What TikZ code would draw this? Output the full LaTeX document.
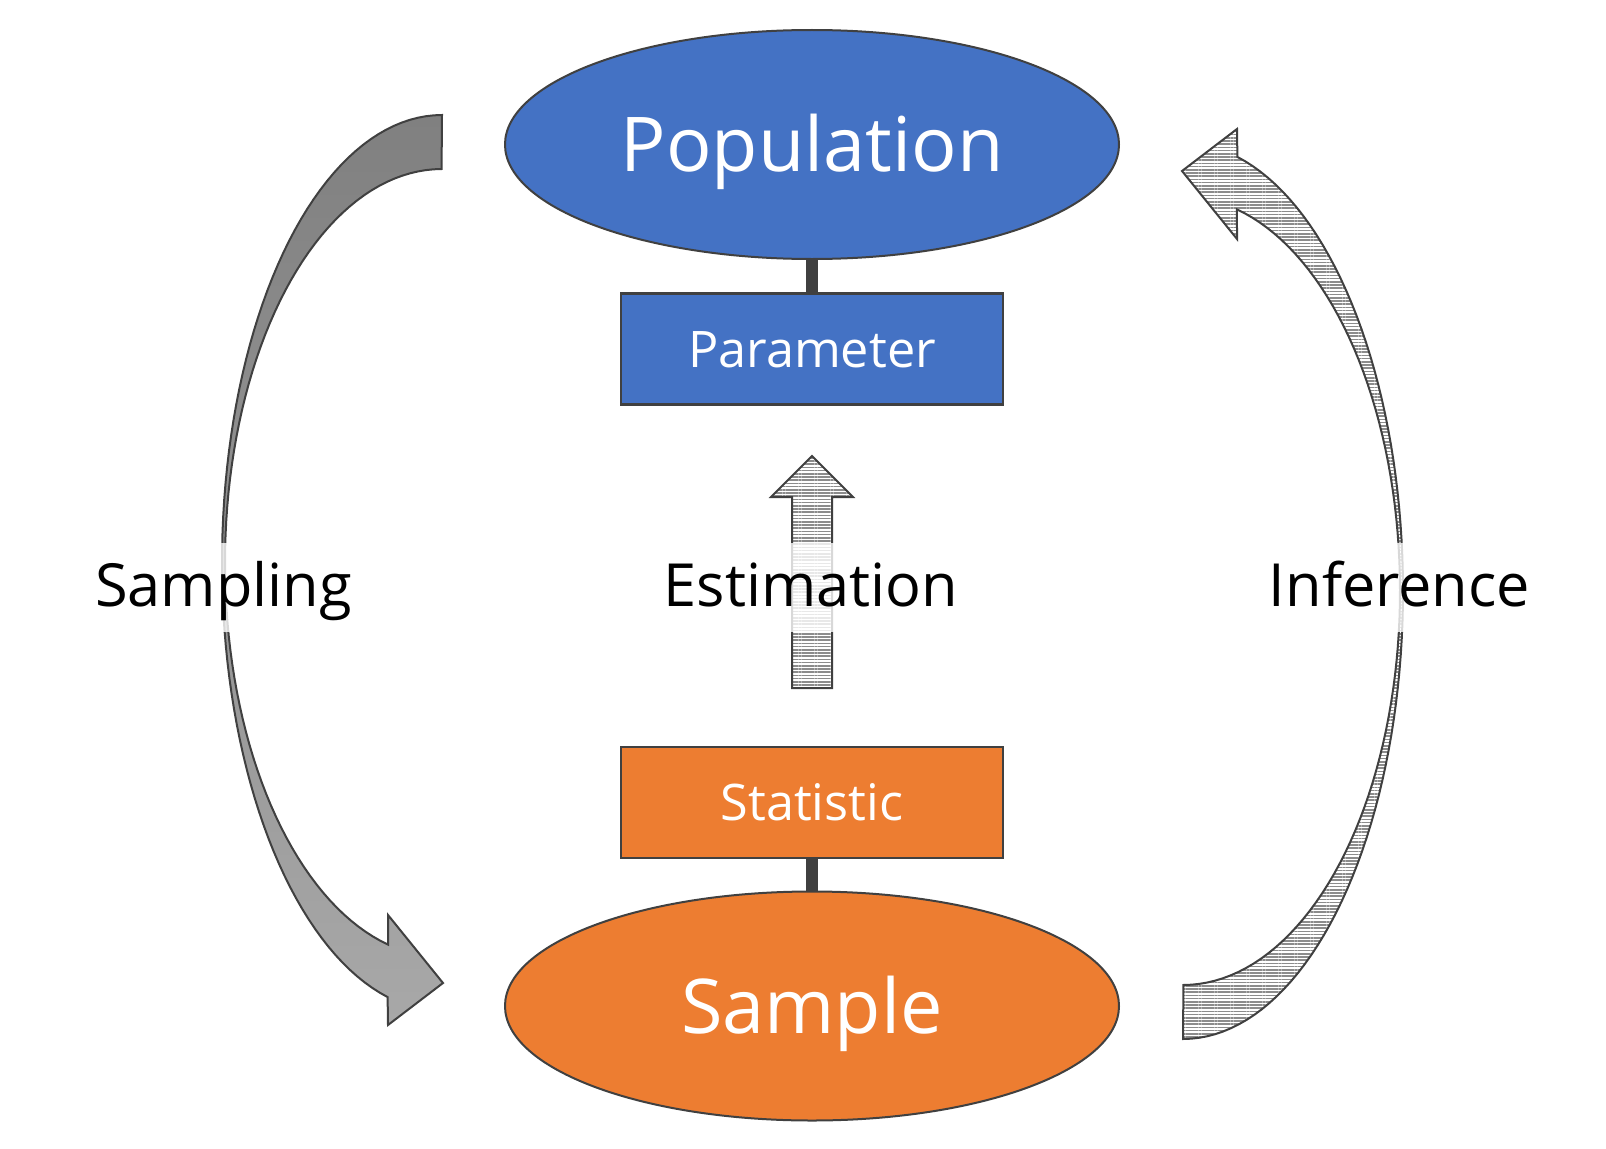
\documentclass[tikz,border=0pt]{standalone}
\usepackage{fontspec}
\setmainfont{Open Sans}
\usetikzlibrary{shapes.geometric,patterns.meta}
\definecolor{popblue}{HTML}{4472C4}
\definecolor{samporange}{HTML}{ED7D31}
\definecolor{dk}{HTML}{404040}
\definecolor{gtop}{RGB}{128,128,128}
\definecolor{gbot}{RGB}{168,168,168}
\definecolor{hatch}{HTML}{8C8C8C}
\newcommand\curvedarrowpath{(442,115) -- plot[domain=0:1, samples=80, variable=\s] ({442+220*cos(270-165.8*\s)},{563+448*sin(270-165.8*\s)}) -- (388,1025) -- (443,983) -- (388,915) -- plot[domain=0:1, samples=80, variable=\s] ({442+217*cos(104.4+165.6*\s)},{563+394*sin(104.4+165.6*\s)}) -- cycle}
\tikzset{
  bigell/.style={ellipse, draw=dk, line width=1.5pt, minimum width=460.5pt, minimum height=171.75pt, inner sep=0pt, text=white, font=\fontsize{56.7pt}{60pt}\selectfont, text height=40.5pt, text depth=0pt},
  valbox/.style={rectangle, draw=dk, line width=2.1pt, minimum width=286.5pt, minimum height=83.25pt, inner sep=0pt, text=white, font=\fontsize{37.8pt}{42pt}\selectfont, text height=27pt, text depth=0pt},
  link/.style={draw=dk, line width=9pt},
  outl/.style={draw=dk, line width=1.5pt, line join=miter},
  hatched/.style={outl, preaction={fill=white}, pattern={Lines[angle=0,distance=2.4pt,line width=1.1pt]}, pattern color=hatch},
  lbl/.style={anchor=base, font=\fontsize{44.6pt}{50pt}\selectfont, fill=white, fill opacity=0.8, text opacity=1, inner xsep=4pt, inner ysep=0pt, text height=47.6pt, text depth=19.1pt}
}
\begin{document}
\begin{tikzpicture}[x=0.75pt,y=-0.75pt]
\useasboundingbox (0,0) rectangle (1606,1149);
% curved arrows
\path[outl, top color=gtop, bottom color=gbot] \curvedarrowpath;
\path[hatched, rotate around={180:(812.5,577)}] \curvedarrowpath;
% estimation arrow
\path[hatched] (792,688) -- (792,497) -- (771,497) -- (812,456) -- (853,497) -- (832,497) -- (832,688) -- cycle;
% connectors (behind shapes)
\node[bigell, fill=popblue] (pop) at (812,144.5) {Population};
\node[bigell, fill=samporange] (samp) at (812,1006) {Sample};
\node[valbox, fill=popblue] (param) at (812,349) {Parameter};
\node[valbox, fill=samporange] (stat) at (812,802.5) {Statistic};
\draw[link] (pop.south) -- (param.north);
\draw[link] (stat.south) -- (samp.north);
% labels
\node[lbl] (lsamp) at (223.5,606.5) {Sampling};
\node[lbl] (lest) at (811,606.5) {Estimation};
\node[lbl] (linf) at (1399.5,606.5) {Inference};
\end{tikzpicture}
\end{document}
